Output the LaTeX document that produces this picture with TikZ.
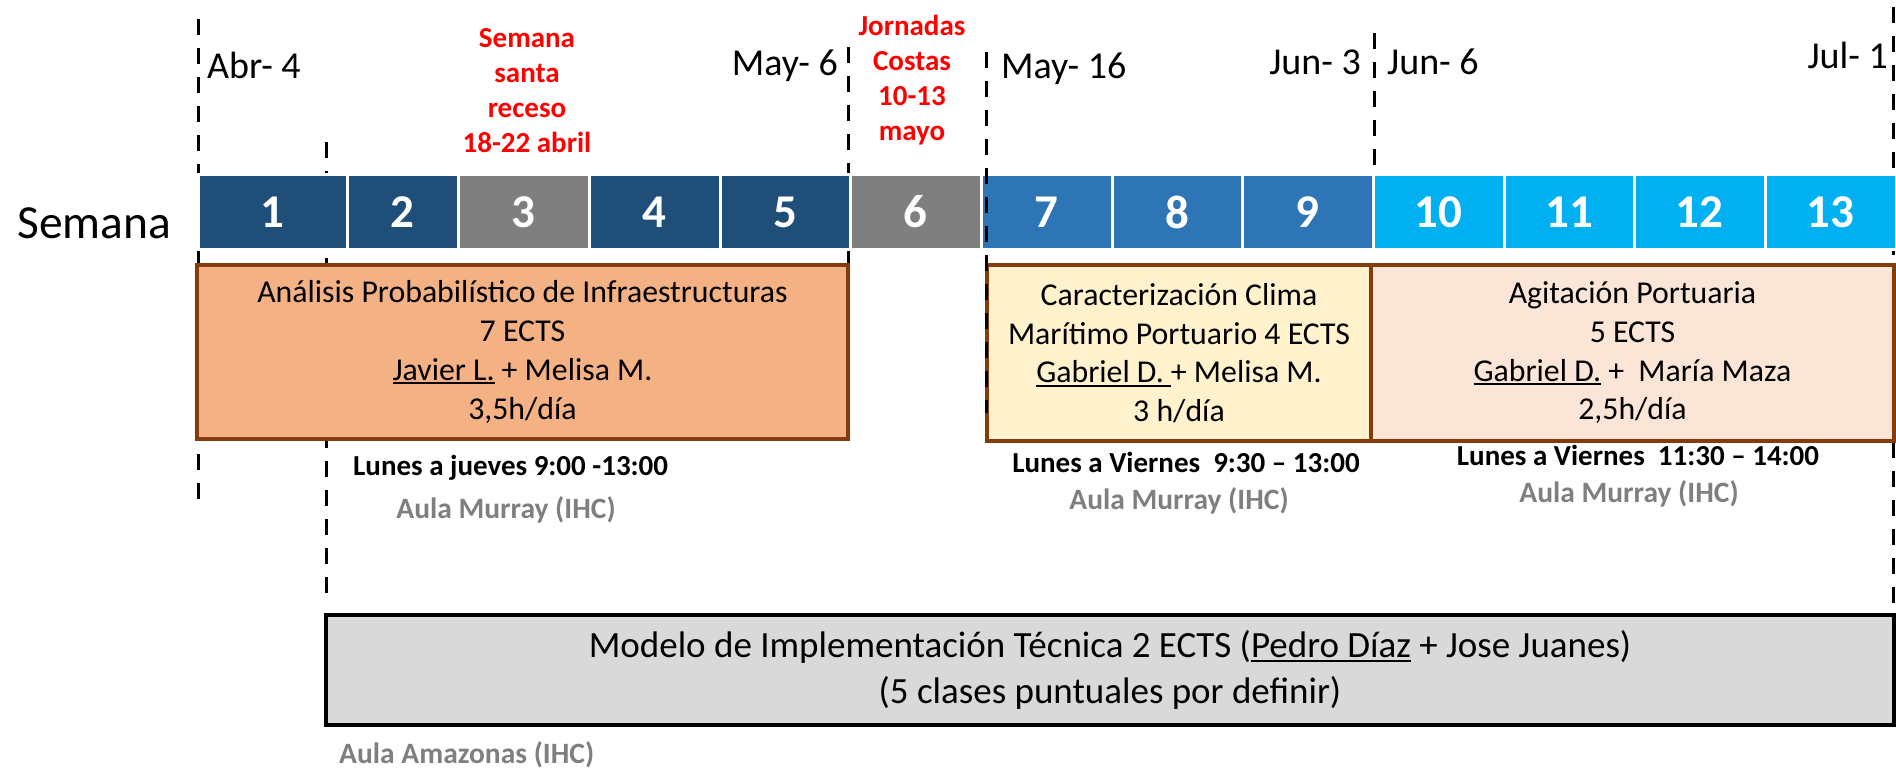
\documentclass[tikz,border=0pt]{standalone}
\usepackage{fontspec}
\setmainfont{Carlito}
\usepackage{xcolor}
\definecolor{wkdark}{HTML}{1F4E79}
\definecolor{wkgray}{HTML}{7F7F7F}
\definecolor{wkmid}{HTML}{2E75B6}
\definecolor{wklight}{HTML}{00B0F0}
\definecolor{apfill}{HTML}{F4B183}
\definecolor{ccfill}{HTML}{FFF2CC}
\definecolor{agfill}{HTML}{FBE5D6}
\definecolor{boxline}{HTML}{843C0C}
\definecolor{mifill}{HTML}{D9D9D9}
\definecolor{notered}{HTML}{FF0000}
\definecolor{aulagray}{HTML}{7F7F7F}
\newcommand\undl[1]{\leavevmode\setbox0\hbox{#1}\rlap{\rule[-0.13em]{\wd0}{0.065em}}\box0\relax}

\begin{document}
\begin{tikzpicture}[x=1pt,y=-1pt,
  wk/.style={draw=white, line width=3pt, text=white, inner sep=0pt, minimum height=75pt, font=\bfseries\fontsize{47}{56}\selectfont},
  crs/.style={draw=boxline, line width=3.3pt, align=center, inner sep=0pt, font=\fontsize{31.8}{38.7}\selectfont},
  mit/.style={draw=black, line width=4pt, fill=mifill, align=center, inner sep=0pt, font=\fontsize{37}{46.7}\selectfont},
  mk/.style={line width=3pt, dash pattern=on 16pt off 13pt},
  dt/.style={inner sep=0pt, font=\fontsize{38}{46}\selectfont},
  hol/.style={text=notered, align=center, inner sep=0pt, font=\bfseries\fontsize{29}{35}\selectfont},
  hr/.style={inner sep=0pt, font=\bfseries\fontsize{29}{34}\selectfont},
  rm/.style={text=aulagray, inner sep=0pt, font=\bfseries\fontsize{29.5}{34}\selectfont}]
\useasboundingbox (0,0) rectangle (1896,769);

% date marks (behind)
\draw[mk] (198,19) -- (198,500);
\draw[mk] (326,142) -- (326,605);
\draw[mk] (848,47) -- (848,265);
\draw[mk] (1374,33) -- (1374,170);
\draw[mk] (1893,7) -- (1893,607);

\node[inner sep=0pt, anchor=base west, font=\fontsize{47.5}{56}\selectfont] (sem) at (17,238) {Semana};

% weeks
\node[wk, fill=wkdark,  minimum width=149pt] (w1)  at (272.5,212) {1};
\node[wk, fill=wkdark,  minimum width=111pt] (w2)  at (402.5,212) {2};
\node[wk, fill=wkgray,  minimum width=131pt] (w3)  at (523.5,212) {3};
\node[wk, fill=wkdark,  minimum width=131pt] (w4)  at (654.5,212) {4};
\node[wk, fill=wkdark,  minimum width=130pt] (w5)  at (785,212)   {5};
\node[wk, fill=wkgray,  minimum width=131pt] (w6)  at (915.5,212) {6};
\node[wk, fill=wkmid,   minimum width=131pt] (w7)  at (1046.5,212) {7};
\node[wk, fill=wkmid,   minimum width=130pt] (w8)  at (1177,212)  {8};
\node[wk, fill=wkmid,   minimum width=131pt] (w9)  at (1307.5,212) {9};
\node[wk, fill=wklight, minimum width=131pt] (w10) at (1438.5,212) {10};
\node[wk, fill=wklight, minimum width=130pt] (w11) at (1569,212)  {11};
\node[wk, fill=wklight, minimum width=131pt] (w12) at (1699.5,212) {12};
\node[wk, fill=wklight, minimum width=131pt] (w13) at (1830.5,212) {13};

% dates
\node[dt, anchor=base west] (abr4)  at (207,78)  {Abr- 4};
\node[dt, anchor=base east] (may6)  at (838,75)  {May- 6};
\node[dt, anchor=base west] (may16) at (1001,78) {May- 16};
\node[dt, anchor=base east] (jun3)  at (1361,74) {Jun- 3};
\node[dt, anchor=base west] (jun6)  at (1387,74) {Jun- 6};
\node[dt, anchor=base east] (jul1)  at (1888,68) {Jul- 1};

\node[hol, anchor=north] (santa) at (527,28) {Semana\\santa\\receso\\18-22 abril};
\node[hol, anchor=north] (jorn)  at (912,15) {Jornadas\\Costas\\10-13\\mayo};

% courses
\node[crs, fill=apfill, minimum width=651pt, minimum height=174pt] (ap) at (522.5,352)
  {Análisis Probabilístico de Infraestructuras\\7 ECTS\\\undl{Javier L.} + Melisa M.\\3,5h/día};
\node[crs, fill=ccfill, minimum width=384pt, minimum height=176pt] (cc) at (1179,353)
  {Caracterización Clima\\Marítimo Portuario 4 ECTS\\\undl{Gabriel D.\ }+ Melisa M.\\3 h/día};
\node[crs, fill=agfill, minimum width=523pt, minimum height=176pt] (ag) at (1632.5,353)
  {Agitación Portuaria\\5 ECTS\\\undl{Gabriel D.} +\ \ María Maza\\2,5h/día};
\node[mit, minimum width=1568pt, minimum height=110pt] (mi) at (1110,670)
  {Modelo de Implementación Técnica 2 ECTS (\undl{Pedro Díaz} + Jose Juanes)\\(5 clases puntuales por definir)};

\draw[mk] (986,52) -- (986,413);

% schedules and rooms
\node[hr, anchor=base west] (apt) at (353,475)  {Lunes a jueves 9:00 -13:00};
\node[rm, anchor=base]      (apr) at (506,518)  {Aula Murray (IHC)};
\node[hr, anchor=base]      (cct) at (1186,472) {Lunes a Viernes\ \ 9:30 – 13:00};
\node[rm, anchor=base]      (ccr) at (1179,509) {Aula Murray (IHC)};
\node[hr, anchor=base]      (agt) at (1638,465) {Lunes a Viernes\ \ 11:30 – 14:00};
\node[rm, anchor=base]      (agr) at (1629,502) {Aula Murray (IHC)};
\node[rm, anchor=base west] (mir) at (339,763)  {Aula Amazonas (IHC)};
\end{tikzpicture}
\end{document}
